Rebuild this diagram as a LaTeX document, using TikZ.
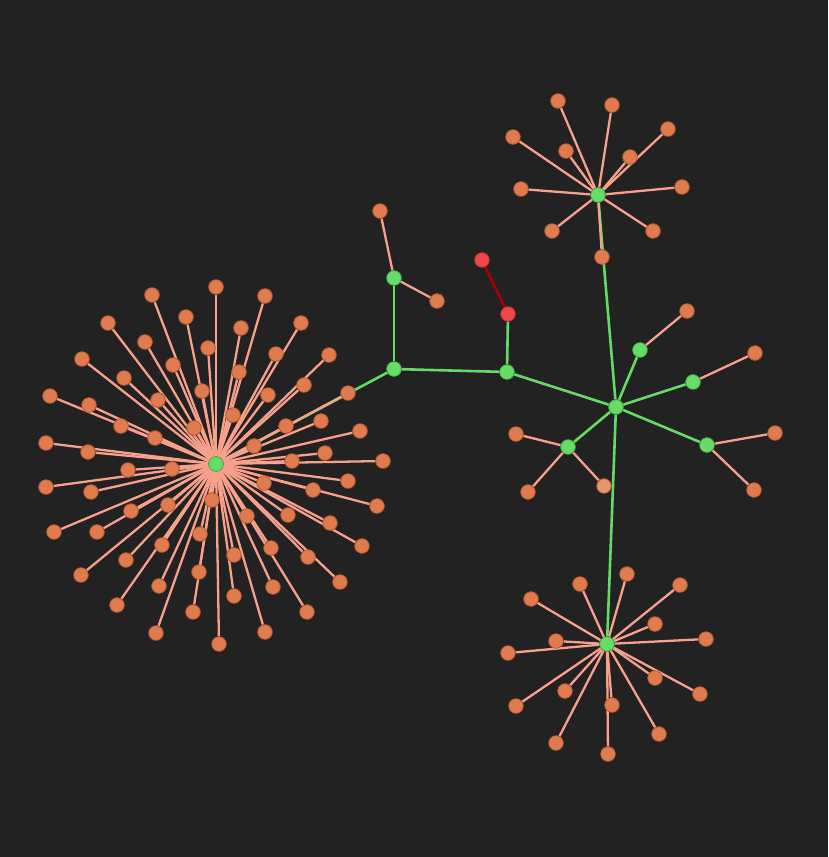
\documentclass[tikz,border=0pt]{standalone}
\usepackage{xcolor}
\usepackage{tikz}
\usetikzlibrary{backgrounds}
\definecolor{bgdark}{HTML}{222222}
\definecolor{leaforange}{HTML}{E07B4F}
\definecolor{leafrim}{HTML}{B55A30}
\definecolor{hubgreen}{HTML}{66DD66}
\definecolor{hubrim}{HTML}{4DB04D}
\definecolor{linkpink}{HTML}{F7A08C}
\definecolor{linkgreen}{HTML}{66DA66}
\definecolor{redfill}{HTML}{EE4848}
\definecolor{redrim}{HTML}{C03030}
\definecolor{linkred}{HTML}{A80000}

\begin{document}
\begin{tikzpicture}[
			x=1pt, y=-1pt,
			leaf/.style={circle, fill=leaforange, draw=leafrim, line width=0.8pt, minimum size=14.6pt, inner sep=0pt},
			hub/.style={leaf, fill=hubgreen, draw=hubrim},
			redleaf/.style={leaf, fill=redfill, draw=redrim},
			pinklink/.style={draw=linkpink, line width=2.3pt},
			greenlink/.style={draw=linkgreen, line width=2.6pt},
			redlink/.style={draw=linkred, line width=2.6pt}
			]
			\useasboundingbox (0,0) rectangle (828,857);
			
			% hubs
			\node[hub] (hubL) at (216,464) {};
			\node[hub] (hubT) at (598,195) {};
			\node[hub] (hubB) at (607,644) {};
			\node[hub] (hubM) at (616,407) {};
			\node[hub] (gA) at (394,278) {};
			\node[hub] (gB) at (394,369) {};
			\node[hub] (gC) at (507,372) {};
			\node[hub] (gD) at (640,350) {};
			\node[hub] (gE) at (693,382) {};
			\node[hub] (gF) at (707,445) {};
			\node[hub] (gG) at (568,447) {};
			\node[redleaf] (rA) at (508,314) {};
			\node[redleaf] (rB) at (482,260) {};
			
			% big star
			\foreach \x/\y [count=\i] in {152/295,216/287,186/317,108/323,145/342,208/348,82/359,173/365,124/378,202/391,
				158/400,50/396,89/405,121/426,194/428,155/438,46/443,88/452,128/470,172/469,
				265/296,241/328,301/323,276/354,329/355,239/372,304/385,268/395,348/393,233/415,
				321/421,286/426,360/431,254/446,325/453,292/461,383/461,
				46/487,91/492,168/505,131/511,212/500,54/532,97/532,200/534,162/545,126/560,
				199/572,81/575,159/586,117/605,193/612,156/633,219/644,
				348/481,264/483,313/490,377/506,247/516,288/515,330/523,362/546,271/548,234/555,
				308/557,340/582,273/587,234/596,307/612,265/632}
				\node[leaf] (l\i) at (\x,\y) {};
			
			% top star
			\foreach \x/\y [count=\i] in {558/101,612/105,668/129,513/137,566/151,630/157,521/189,682/187,552/231,653/231,602/257}
				\node[leaf] (t\i) at (\x,\y) {};
			
			% bottom star
			\foreach \x/\y [count=\i] in {627/574,580/584,680/585,531/599,655/624,556/641,706/639,508/653,
				655/678,700/694,565/691,612/705,516/706,659/734,556/743,608/754}
				\node[leaf] (b\i) at (\x,\y) {};
			
			% small leaves
			\node[leaf] (a1) at (380,211) {};
			\node[leaf] (a2) at (437,301) {};
			\node[leaf] (d1) at (687,311) {};
			\node[leaf] (e1) at (755,353) {};
			\node[leaf] (f1) at (775,433) {};
			\node[leaf] (f2) at (754,490) {};
			\node[leaf] (g1) at (516,434) {};
			\node[leaf] (g2) at (528,492) {};
			\node[leaf, fill=leaforange!80!white] (g3) at (604,486) {};
			
			\begin{scope}[on background layer]
				\fill[bgdark] (0,0) rectangle (828,857);
				\draw[greenlink] (hubL) -- (gB);
				\draw[greenlink] (gB) -- (gA);
				\draw[greenlink] (gB) -- (gC);
				\draw[greenlink] (gC) -- (rA);
				\draw[redlink] (rA) -- (rB);
				\draw[greenlink] (gC) -- (hubM);
				\draw[greenlink] (hubM) -- (hubT);
				\draw[greenlink] (hubM) -- (hubB);
				\foreach \g in {gD,gE,gF,gG}
					\draw[greenlink] (hubM) -- (\g);
				
				\foreach \i in {1,...,70}
					\draw[pinklink] (hubL) -- (l\i);
				\foreach \i in {1,...,11}
					\draw[pinklink] (hubT) -- (t\i);
				\foreach \i in {1,...,16}
					\draw[pinklink] (hubB) -- (b\i);
				\draw[pinklink] (gA) -- (a1);
				\draw[pinklink] (gA) -- (a2);
				\draw[pinklink] (gD) -- (d1);
				\draw[pinklink] (gE) -- (e1);
				\draw[pinklink] (gF) -- (f1);
				\draw[pinklink] (gF) -- (f2);
				\foreach \n in {g1,g2,g3}
					\draw[pinklink] (gG) -- (\n);
			\end{scope}
		\end{tikzpicture}
\end{document}
